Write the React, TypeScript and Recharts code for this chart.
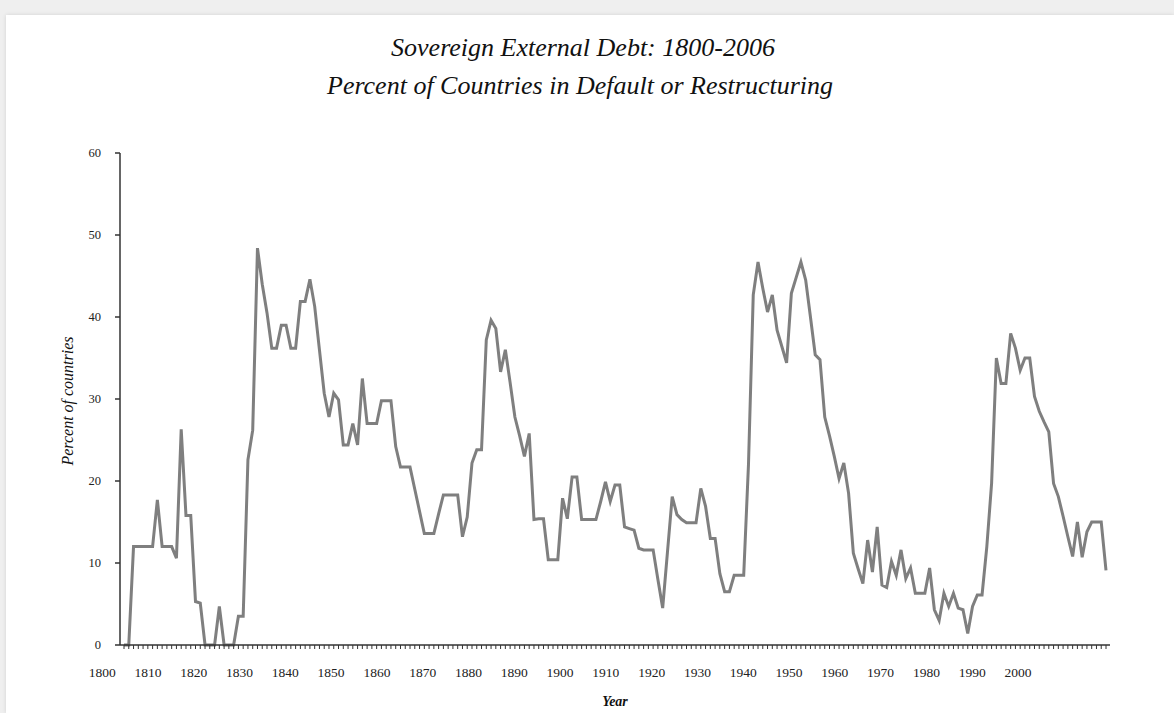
import React from "react";
import { LineChart, Line, XAxis, YAxis } from "recharts";

// percent of countries in default or restructuring, one value per year from 1800
const FIRST_YEAR = 1800;

const pct1800to1849 = [
  0, 0, 12, 12, 12, 12, 12, 17.7, 12, 12,
  12, 10.6, 26.3, 15.8, 15.8, 5.3, 5.1, 0, 0, 0,
  4.7, 0, 0, 0, 3.5, 3.5, 22.6, 26.2, 48.4, 44,
  40.5, 36.2, 36.2, 39, 39, 36.2, 36.2, 41.9, 41.9, 44.6,
  41.3, 36, 30.7, 27.8, 30.7, 29.9, 24.4, 24.4, 27, 24.4,
];

const pct1850to1899 = [
  32.5, 27, 27, 27, 29.8, 29.8, 29.8, 24.2, 21.7, 21.7,
  21.7, 19, 16.3, 13.6, 13.6, 13.6, 16, 18.3, 18.3, 18.3,
  18.3, 13.2, 15.6, 22.2, 23.8, 23.8, 37.2, 39.6, 38.6, 33.3,
  36, 32, 27.8, 25.5, 23, 25.8, 15.3, 15.4, 15.4, 10.4,
  10.4, 10.4, 17.9, 15.4, 20.5, 20.5, 15.3, 15.3, 15.3, 15.3,
];

const pct1900to1949 = [
  17.5, 19.9, 17.5, 19.5, 19.5, 14.4, 14.2, 14, 11.8, 11.6,
  11.6, 11.6, 8, 4.5, 11.3, 18.1, 15.9, 15.3, 14.9, 14.9,
  14.9, 19.1, 16.9, 13, 13, 8.7, 6.5, 6.5, 8.5, 8.5,
  8.5, 22, 42.7, 46.7, 43.5, 40.6, 42.7, 38.4, 36.4, 34.4,
  42.9, 44.8, 46.7, 44.5, 40, 35.4, 34.8, 27.8, 25.5, 23,
];

const pct1950to2006 = [
  20.3, 22.2, 18.5, 11.2, 9.3, 7.5, 12.8, 8.9, 14.4, 7.3,
  7, 10.2, 8.5, 11.6, 8.1, 9.4, 6.3, 6.3, 6.3, 9.4,
  4.3, 3, 6.3, 4.7, 6.3, 4.5, 4.3, 1.4, 4.7, 6.1,
  6.1, 12, 19.7, 35, 31.9, 31.9, 38, 36.2, 33.5, 35,
  35, 30.3, 28.5, 27.2, 26, 19.7, 18.1, 15.7, 13.2, 10.8,
  15, 10.7, 13.8, 15, 15, 15, 9.1,
];

const yearLabels = [
  1800, 1810, 1820, 1830, 1840, 1850, 1860, 1870, 1880, 1890, 1900,
  1910, 1920, 1930, 1940, 1950, 1960, 1970, 1980, 1990, 2000,
];
const percentTicks = [0, 10, 20, 30, 40, 50, 60];

const series = [...pct1800to1849, ...pct1850to1899, ...pct1900to1949, ...pct1950to2006];
const data = series.map((v, i) => ({ year: FIRST_YEAR + i, pct: v }));

// the printed year labels do not sit under the data points, they run on their own scale
const LABEL_DOMAIN: [number, number] = [1803.9, 2020.1];

const SERIF = "'Liberation Serif', 'DejaVu Serif', serif";
const AXIS = "#333333";

function YearLabel({ x, y, payload }: any) {
  return (
    <text x={x} y={y} dy={24} textAnchor="middle" fontSize={13.5} fontFamily={SERIF} fill="#222">
      {payload.value}
    </text>
  );
}

export default function App() {
  return (
    <div style={{ position: "fixed", left: 0, top: 0, width: 1174, height: 713, background: "#efefef" }}>
      <div
        style={{
          position: "absolute",
          left: 6,
          top: 15,
          width: 1168,
          height: 698,
          background: "#fff",
          boxShadow: "0 0 4px rgba(0,0,0,0.12)",
        }}
      />
      <div style={{ position: "absolute", left: 0, top: 0 }}>
        <LineChart
          width={1174}
          height={713}
          data={data}
          margin={{ top: 153, right: 64, bottom: 20, left: 80 }}
        >
          <XAxis
            xAxisId="data"
            dataKey="year"
            type="category"
            interval={0}
            height={8}
            padding={{ left: 4, right: 4 }}
            tick={() => <g />}
            tickSize={4}
            stroke={AXIS}
            axisLine={{ stroke: AXIS, strokeWidth: 1.5 }}
            tickLine={{ stroke: AXIS, strokeWidth: 1 }}
          />
          <XAxis
            xAxisId="lbl"
            dataKey="year"
            type="number"
            domain={LABEL_DOMAIN}
            allowDataOverflow
            ticks={yearLabels}
            interval={0}
            height={40}
            axisLine={false}
            tickLine={false}
            tickSize={0}
            tickMargin={0}
            tick={<YearLabel />}
          />
          <YAxis
            domain={[0, 60]}
            ticks={percentTicks}
            interval={0}
            width={40}
            tickSize={5}
            tickMargin={14}
            axisLine={{ stroke: AXIS, strokeWidth: 1.5 }}
            tickLine={{ stroke: AXIS, strokeWidth: 1.5 }}
            tick={{ fill: "#222", fontSize: 12.5, fontFamily: SERIF }}
          />
          {/* invisible copy, only gives the label axis something to scale against */}
          <Line
            xAxisId="lbl"
            dataKey="pct"
            stroke="none"
            dot={false}
            activeDot={false}
            isAnimationActive={false}
          />
          <Line
            xAxisId="data"
            type="linear"
            dataKey="pct"
            stroke="#7f7f7f"
            strokeWidth={3}
            strokeLinejoin="miter"
            dot={false}
            isAnimationActive={false}
          />
        </LineChart>
      </div>
      <svg
        width={1174}
        height={713}
        style={{ position: "absolute", left: 0, top: 0, pointerEvents: "none" }}
      >
        <g fontFamily={SERIF} fontStyle="italic" fill="#111" textAnchor="middle">
          <text x={583} y={56} fontSize={26}>
            Sovereign External Debt: 1800-2006
          </text>
          <text x={580} y={94} fontSize={26}>
            Percent of Countries in Default or Restructuring
          </text>
          <text x={615} y={706} fontSize={14} fontWeight="bold">
            Year
          </text>
          <text x={73} y={401} fontSize={16} transform="rotate(-90 73 401)">
            Percent of countries
          </text>
        </g>
      </svg>
    </div>
  );
}
